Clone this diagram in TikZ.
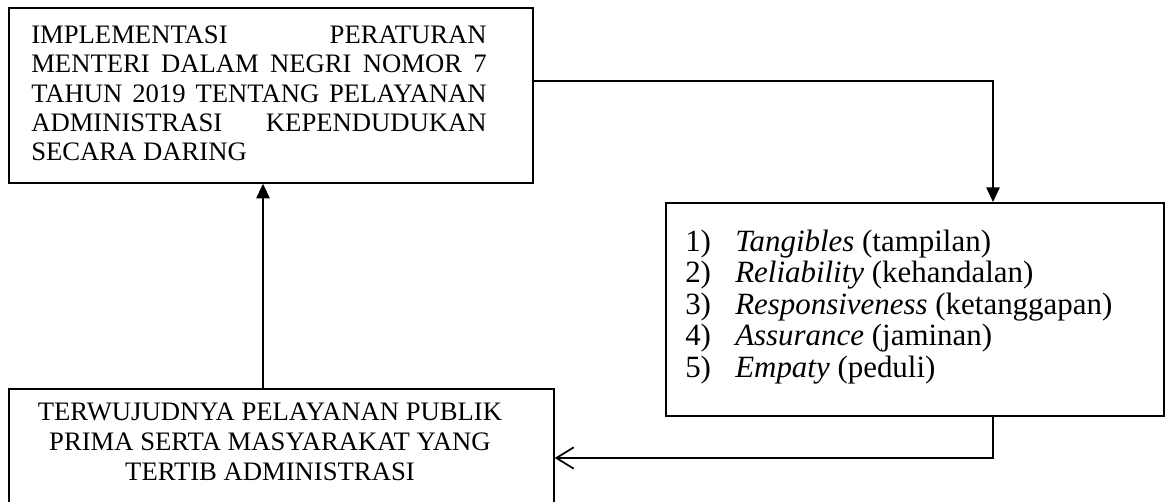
\documentclass[tikz,border=0pt]{standalone}
\usepackage{fontspec}
\setmainfont{Liberation Serif}
\usetikzlibrary{arrows.meta}
\begin{document}
\begin{tikzpicture}[x=0.75pt,y=-0.75pt,
  box/.style={draw, line width=1.3pt, rectangle, inner sep=0pt, anchor=north west},
  link/.style={line width=1.3pt},
  fillarr/.style={-{Triangle[length=11pt,width=10pt]}},
  openarr/.style={-{Straight Barb[length=13pt,width=16pt]}},
  lineA/.style={anchor=base west, inner sep=0pt, font=\fontsize{20}{22}\selectfont},
  lineB/.style={anchor=base west, inner sep=0pt, font=\fontsize{23.2}{25}\selectfont},
  lineC/.style={anchor=base, inner sep=0pt, font=\fontsize{20}{22}\selectfont}
]
\useasboundingbox (0,0) rectangle (1166,501);
\fill[white] (0,0) rectangle (1166,501);
% boxes
\node[box, minimum width=393pt, minimum height=131.25pt] (b1) at (8,7) {};
\node[box, minimum width=373.5pt, minimum height=159.75pt] (b2) at (665,202) {};
\node[box, minimum width=408.75pt, minimum height=90pt] (b3) at (8,388) {};
% box 1 text
\node[lineA] (a1) at (31,43) {\makebox[341.6pt][s]{IMPLEMENTASI PERATURAN}};
\node[lineA] (a2) at (31,72.5) {\makebox[341.6pt][s]{MENTERI DALAM NEGRI NOMOR 7}};
\node[lineA] (a3) at (31,102) {\makebox[341.6pt][s]{TAHUN 2019 TENTANG PELAYANAN}};
\node[lineA] (a4) at (31,131) {\makebox[341.6pt][s]{ADMINISTRASI KEPENDUDUKAN}};
\node[lineA] (a5) at (31,160) {SECARA DARING};
% box 2 text
\node[lineB] (c1) at (685,251) {\makebox[37.5pt][l]{1)}\textit{Tangibles} (tampilan)};
\node[lineB] (c2) at (685,282.5) {\makebox[37.5pt][l]{2)}\textit{Reliability} (kehandalan)};
\node[lineB] (c3) at (685,314) {\makebox[37.5pt][l]{3)}\textit{Responsiveness} (ketanggapan)};
\node[lineB] (c4) at (685,345.5) {\makebox[37.5pt][l]{4)}\textit{Assurance} (jaminan)};
\node[lineB] (c5) at (685,377) {\makebox[37.5pt][l]{5)}\textit{Empaty} (peduli)};
% box 3 text
\node[lineC] (d1) at (270,420) {TERWUJUDNYA PELAYANAN PUBLIK};
\node[lineC] (d2) at (270,450) {PRIMA SERTA MASYARAKAT YANG};
\node[lineC] (d3) at (270,480) {TERTIB ADMINISTRASI};
% connectors
\coordinate (k1) at (993,81);
\coordinate (k2) at (993,458);
\coordinate (k3) at (263,300);
\draw[link, fillarr] (b1.east |- k1) -- (k1) -- (b2.north -| k1);
\draw[link, openarr] (b2.south -| k2) -- (k2) -- (b3.east |- k2);
\draw[link, fillarr] (b3.north -| k3) -- (b1.south -| k3);
\end{tikzpicture}
\end{document}
